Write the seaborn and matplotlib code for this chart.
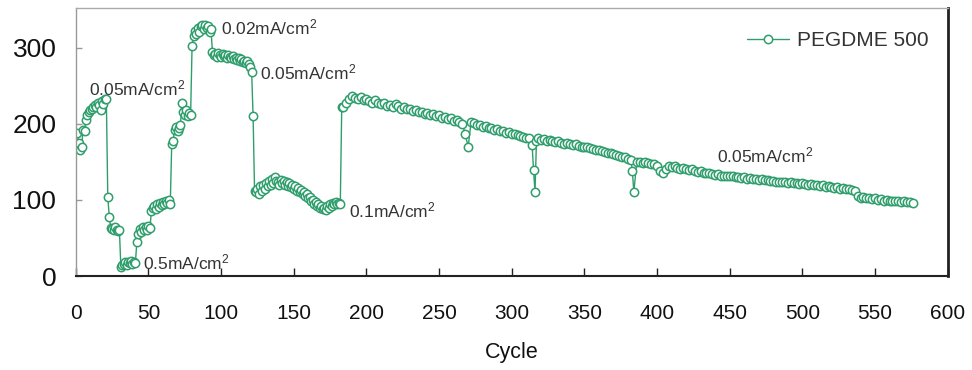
import matplotlib
matplotlib.use("Agg")
import matplotlib.pyplot as plt
import seaborn as sns
import pandas as pd

# ---------------- data ----------------
early_cycles = list(range(1, 184))
early_capacity = [
    188, 175, 165, 170, 192, 190, 205, 212, 215, 218,
    220, 222, 225, 222, 228, 225, 218, 230, 226, 232, 233,
    104, 78, 63, 62, 60, 64, 61, 59, 60,
    12, 14, 16, 18, 15, 19, 17, 20, 16, 18, 17,
    45, 55, 62, 58, 64, 61, 65, 60, 66, 63, 85, 90, 92, 88, 94, 91, 96, 93, 97, 95, 99, 96, 100, 94,
    174, 178, 192, 196, 190, 194, 198, 228, 216, 212, 218, 210, 214, 212,
    302, 315, 322, 318, 326, 320, 328, 330, 324, 330, 326, 329, 320, 325,
    295, 290, 292, 288, 293, 290, 288, 292, 289, 291, 287, 290, 288, 286, 289, 285, 287, 284, 286, 282,
    285, 281, 283, 280, 282, 278, 275, 268, 210,
    112, 110, 115, 108, 118, 112, 120, 115, 122, 118,
    125, 120, 128, 122, 130, 125, 124, 120, 126, 122,
    125, 120, 123, 118, 122, 117, 120, 115, 118, 112,
    116, 110, 113, 108, 110, 105, 108, 102, 104, 98,
    100, 95, 97, 92, 94, 90, 92, 88, 90, 87,
    92, 90, 95, 92, 96, 94, 97, 95, 96, 94,
    222,
]

late_cycles = (list(range(184, 267, 2)) + [268, 270, 272] + list(range(274, 313, 2))
               + [314, 315, 316, 317] + list(range(318, 381, 2)) + [382, 383, 384, 386]
               + list(range(388, 401, 2)) + [402, 404, 406] + list(range(408, 537, 2))
               + list(range(538, 577, 2)))
late_capacity = [
    222, 228, 232, 236, 234, 233, 235, 231, 232,
    230, 228, 231, 227, 226, 228, 224, 225, 222, 226, 223, 220, 222, 219, 220, 217, 218, 215, 216,
    213, 214, 212, 213, 210, 211,
    208, 209, 206, 207, 204, 205, 202, 200,
    186, 170, 202,
    201, 198, 199, 196, 197, 194, 195, 192, 193, 190, 191, 188, 189, 187, 186, 185, 184, 183, 182, 181,
    172, 139, 110, 178,
    181, 179, 180, 178, 179, 177, 176, 177, 175, 174,
    175, 173, 172, 173, 171, 170, 169, 170, 168, 167,
    166, 166, 164, 163, 162, 162, 160, 159, 158, 157, 156, 154,
    152, 138, 110, 150,
    150, 149, 150, 148, 147, 147, 145,
    138, 136, 141,
    144, 143, 144, 142, 141, 142, 140, 139, 140, 138, 137, 138, 136, 135, 136, 134, 133, 134, 132, 131, 132, 131,
    131, 130, 130, 129, 130, 128, 129, 127, 128, 126, 127, 126, 126, 125, 125, 124, 124, 123, 124, 122,
    123, 122, 122, 121, 122,
    121, 120, 121, 119, 120, 118, 119, 117, 118, 117, 116, 117, 115, 116, 114, 115, 113, 112,
    105, 103, 104, 102, 103, 101, 102, 100, 101, 99, 100, 99, 98, 99, 98, 97, 98, 97, 97, 96,
]
assert len(early_cycles) == len(early_capacity)
assert len(late_cycles) == len(late_capacity)

cycles = early_cycles + late_cycles
capacity = early_capacity + late_capacity

labels = ["0.05mA/cm$^2$", "0.5mA/cm$^2$", "0.02mA/cm$^2$", "0.05mA/cm$^2$", "0.1mA/cm$^2$", "0.05mA/cm$^2$"]
label_x = [9, 46, 100, 127, 188, 441]
label_y = [247, 18, 326, 268, 86, 159]

xticks = list(range(0, 601, 50))
yticks = [0, 100, 200, 300]

# ---------------- plot ----------------
GREEN = "#2f9e6c"
sns.set_theme(style="white")
plt.rcParams["font.family"] = ["Liberation Sans", "DejaVu Sans"]
plt.rcParams["mathtext.default"] = "regular"

fig = plt.figure(figsize=(9.72, 3.70), dpi=100)
ax = fig.add_axes([0.078, 0.254, 0.897, 0.724])

df = pd.DataFrame({"Cycle": cycles, "Capacity": capacity})
sns.lineplot(data=df, x="Cycle", y="Capacity", sort=False, estimator=None, ax=ax,
             color=GREEN, lw=1, marker="o", markersize=6, markerfacecolor="white",
             markeredgecolor=GREEN, markeredgewidth=1.1, label="PEGDME 500")

ax.set_xlim(0, 600)
ax.set_ylim(0, 352)
ax.set_xticks(xticks)
ax.set_yticks(yticks)
ax.tick_params(axis="x", direction="in", length=6, width=1, color="#222", labelsize=15,
               pad=20, labelcolor="#111", bottom=True)
ax.tick_params(axis="y", direction="in", length=4, width=1, color="#999", labelsize=19,
               pad=14, labelcolor="#111", left=True)
ax.set_xlabel("Cycle", fontsize=15.5, labelpad=14, color="#111")
ax.set_ylabel("")

for side, col, lw in [("top", "#aaaaaa", 1), ("left", "#999999", 1),
                      ("right", "#222222", 2), ("bottom", "#222222", 1.5)]:
    ax.spines[side].set_visible(True)
    ax.spines[side].set_color(col)
    ax.spines[side].set_linewidth(lw)

for s, x, y in zip(labels, label_x, label_y):
    ax.text(x, y, s, fontsize=12.5, color="#333", ha="left", va="center")

leg = ax.legend(loc="upper right", frameon=False, fontsize=15, handlelength=2.0,
                handletextpad=0.4, bbox_to_anchor=(1.0, 0.985))
for t in leg.get_texts():
    t.set_color("#333")

fig.savefig("out.png", dpi=100)
